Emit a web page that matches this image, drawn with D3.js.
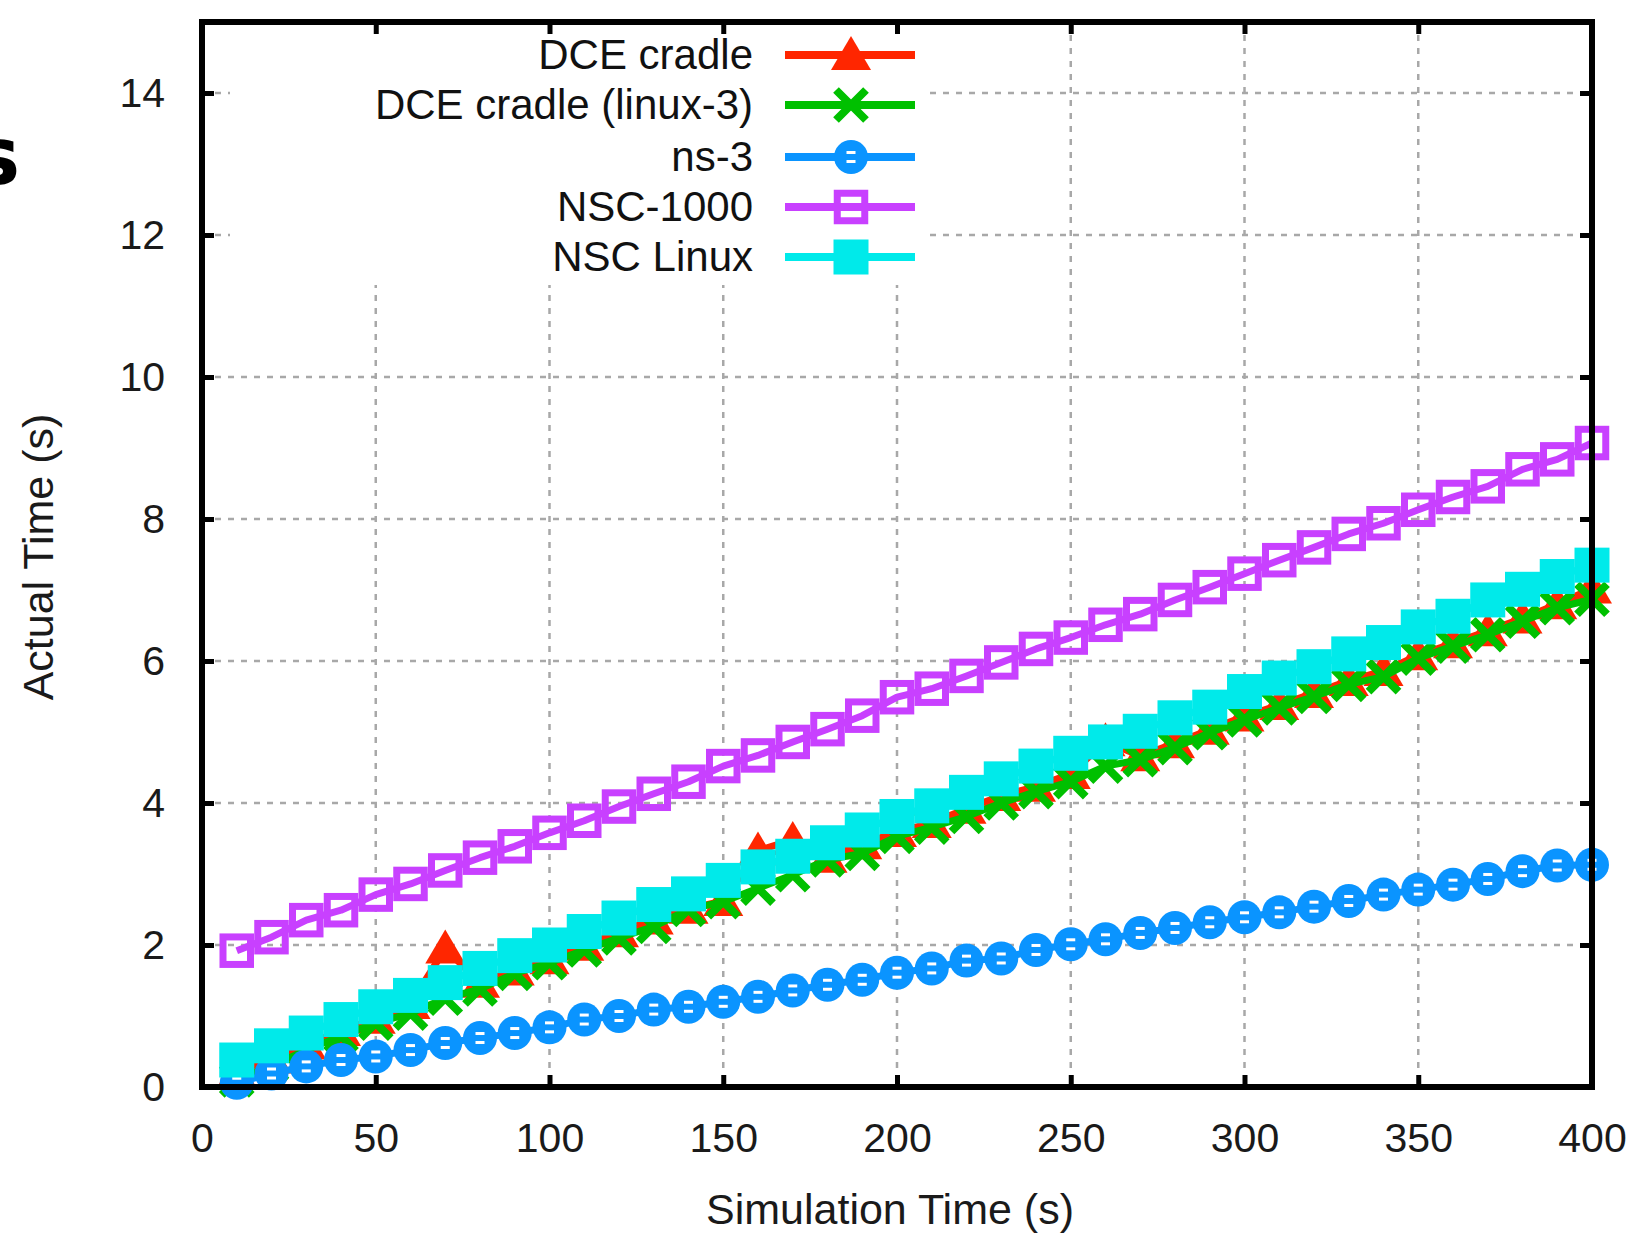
<!DOCTYPE html>
<html><head><meta charset="utf-8">
<script src="https://cdn.jsdelivr.net/npm/d3@7"></script>
<style>
body{margin:0;background:#fff;}
svg{display:block;}
text{font-family:"Liberation Sans", Arial, sans-serif;}
</style>
</head><body>
<svg id="c" width="1631" height="1234"></svg>
<script>
// ---- data ----
const simTime = [10,20,30,40,50,60,70,80,90,100,110,120,130,140,150,160,170,180,190,200,
                 210,220,230,240,250,260,270,280,290,300,310,320,330,340,350,360,370,380,390,400];
const dceCradle = [0.20,0.40,0.60,0.79,0.96,1.17,1.95,1.47,1.64,1.80,1.99,2.18,2.36,2.51,2.62,3.33,3.48,3.23,3.42,3.59,
                   3.72,3.92,4.10,4.23,4.41,4.87,4.66,4.84,5.03,5.22,5.38,5.55,5.72,5.86,6.08,6.25,6.42,6.60,6.80,7.02];
const dceLinux3 = [0.10,0.30,0.52,0.72,0.90,1.04,1.25,1.38,1.60,1.75,1.93,2.10,2.26,2.50,2.61,2.80,2.99,3.20,3.29,3.53,
                   3.66,3.81,4.00,4.16,4.30,4.52,4.61,4.78,4.99,5.17,5.34,5.50,5.67,5.78,6.04,6.21,6.37,6.56,6.75,6.87];
const ns3 = [0.06,0.19,0.29,0.38,0.43,0.52,0.62,0.69,0.76,0.84,0.95,1.00,1.09,1.13,1.20,1.27,1.36,1.44,1.51,1.61,
             1.67,1.78,1.81,1.93,2.01,2.08,2.17,2.24,2.32,2.39,2.46,2.54,2.62,2.71,2.78,2.85,2.93,3.04,3.12,3.13];
const nsc1000 = [1.92,2.11,2.35,2.49,2.71,2.86,3.05,3.23,3.39,3.58,3.75,3.95,4.13,4.30,4.52,4.67,4.86,5.04,5.23,5.49,
                 5.61,5.79,5.98,6.17,6.33,6.51,6.66,6.86,7.04,7.23,7.42,7.60,7.79,7.94,8.13,8.31,8.46,8.70,8.84,9.07];
const nscLinux = [0.38,0.58,0.76,0.95,1.13,1.29,1.47,1.67,1.85,2.00,2.19,2.38,2.57,2.72,2.91,3.10,3.25,3.44,3.62,3.81,
                  3.96,4.15,4.34,4.52,4.70,4.86,5.01,5.20,5.35,5.57,5.76,5.92,6.10,6.26,6.48,6.63,6.86,7.01,7.19,7.35];

const seriesNames  = ["DCE cradle","DCE cradle (linux-3)","ns-3","NSC-1000","NSC Linux"];
const seriesValues = [dceCradle, dceLinux3, ns3, nsc1000, nscLinux];
const seriesColors = ["#ff2600","#00c000","#0a94ff","#c840ff","#00eaea"];
const seriesMarkers = ["triangle","cross","circle","openSquare","filledSquare"];

const xTicks = [0,50,100,150,200,250,300,350,400];
const yTicks = [0,2,4,6,8,10,12,14];
const xTitle = "Simulation Time (s)";
const yTitle = "Actual Time (s)";

// ---- layout ----
const svg = d3.select("#c");
const L = 202, R = 1592, T = 22, B = 1087;
const x = d3.scaleLinear().domain([0,400]).range([L,R]);
const y = d3.scaleLinear().domain([0,15]).range([B,T]);

// stray glyph at the left edge
svg.append("text").attr("x",20).attr("y",184).attr("text-anchor","end")
  .style("font-family","'DejaVu Sans', sans-serif").style("font-weight","bold")
  .style("font-size","80px").attr("fill","#000").text("s");

// grid
const grid = svg.append("g").attr("stroke","#a8a8a8").attr("stroke-width",2.5).attr("stroke-dasharray","6,7");
grid.selectAll(".gy").data(yTicks.filter(d=>d>0)).join("line")
  .attr("x1",L).attr("x2",R).attr("y1",d=>y(d)).attr("y2",d=>y(d));
grid.selectAll(".gx").data(xTicks.filter(d=>d>0&&d<400)).join("line")
  .attr("y1",T).attr("y2",B).attr("x1",d=>x(d)).attr("x2",d=>x(d));

// legend opaque box
svg.append("rect").attr("x",230).attr("y",T+3).attr("width",696).attr("height",260).attr("fill","#fff");

// markers
function drawMarker(g, type, color){
  if(type==="triangle"){
    g.append("path").attr("d","M0,-19L20,15L-20,15Z").attr("fill",color);
  } else if(type==="cross"){
    g.append("path").attr("d","M-15,-15L15,15M-15,15L15,-15").attr("stroke",color)
      .attr("stroke-width",8).attr("fill","none");
  } else if(type==="circle"){
    g.append("circle").attr("r",17).attr("fill",color);
    g.append("rect").attr("x",-4.5).attr("y",-6).attr("width",9).attr("height",3).attr("fill","#fff");
    g.append("rect").attr("x",-4.5).attr("y",3).attr("width",9).attr("height",3).attr("fill","#fff");
  } else if(type==="openSquare"){
    g.append("rect").attr("x",-13.75).attr("y",-13.75).attr("width",27.5).attr("height",27.5)
      .attr("fill","none").attr("stroke",color).attr("stroke-width",7);
  } else if(type==="filledSquare"){
    g.append("rect").attr("x",-17.5).attr("y",-17.5).attr("width",35).attr("height",35).attr("fill",color);
  }
}

const line = d3.line().x(d=>x(d[0])).y(d=>y(d[1]));
seriesValues.forEach((vals,i)=>{
  const pts = simTime.map((t,j)=>[t,vals[j]]);
  const g = svg.append("g");
  g.append("path").datum(pts).attr("d",line).attr("fill","none")
    .attr("stroke",seriesColors[i]).attr("stroke-width",7).attr("stroke-linejoin","round");
  g.selectAll(".m").data(pts).join("g").attr("transform",d=>`translate(${x(d[0])},${y(d[1])})`)
    .each(function(){ drawMarker(d3.select(this), seriesMarkers[i], seriesColors[i]); });
});

// legend
const legRowY = [55,105,157,207,257];
seriesNames.forEach((name,i)=>{
  const ly = legRowY[i];
  svg.append("text").attr("x",753).attr("y",ly+14).attr("text-anchor","end")
    .style("font-size","42px").attr("fill","#111").text(name);
  svg.append("line").attr("x1",785).attr("x2",915).attr("y1",ly).attr("y2",ly)
    .attr("stroke",seriesColors[i]).attr("stroke-width",8);
  drawMarker(svg.append("g").attr("transform",`translate(851,${ly})`), seriesMarkers[i], seriesColors[i]);
});

// axes (inward ticks)
const tickStyle = g => { g.select(".domain").remove();
  g.selectAll(".tick line").attr("stroke","#000").attr("stroke-width",5);
  g.selectAll(".tick text").style("font-size","41px").attr("fill","#1a1a1a")
    .style("font-family","'Liberation Sans', Arial, sans-serif"); };

svg.append("g").attr("transform",`translate(0,${B})`)
  .call(d3.axisBottom(x).tickValues(xTicks).tickFormat(d3.format("d")).tickSize(-12).tickPadding(36))
  .call(tickStyle);
svg.append("g").attr("transform",`translate(0,${T})`)
  .call(d3.axisTop(x).tickValues(xTicks).tickFormat("").tickSize(-12))
  .call(tickStyle);
svg.append("g").attr("transform",`translate(${L},0)`)
  .call(d3.axisLeft(y).tickValues(yTicks).tickFormat(d3.format("d")).tickSize(-12).tickPadding(37))
  .call(tickStyle);
svg.append("g").attr("transform",`translate(${R},0)`)
  .call(d3.axisRight(y).tickValues(yTicks).tickFormat("").tickSize(-12))
  .call(tickStyle);

// border
svg.append("rect").attr("x",L).attr("y",T).attr("width",R-L).attr("height",B-T)
  .attr("fill","none").attr("stroke","#000").attr("stroke-width",6);

// titles
svg.append("text").attr("x",890).attr("y",1224).attr("text-anchor","middle")
  .style("font-size","43px").attr("fill","#1a1a1a").text(xTitle);
svg.append("text").attr("transform","translate(53,557) rotate(-90)").attr("text-anchor","middle")
  .style("font-size","43px").attr("fill","#1a1a1a").text(yTitle);
</script>
</body></html>
